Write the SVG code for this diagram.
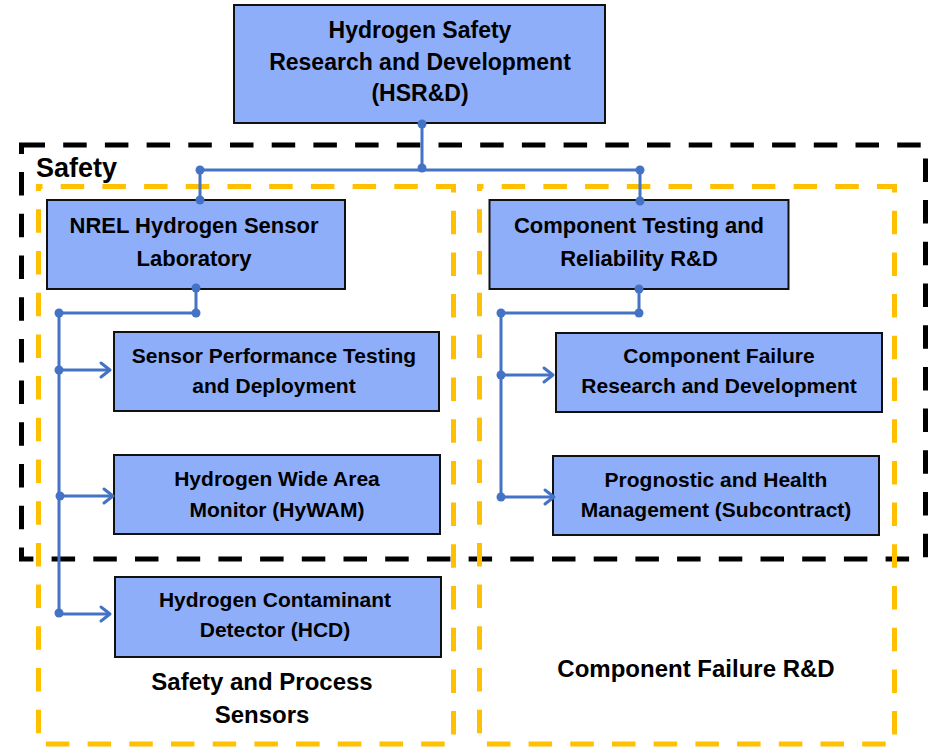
<svg xmlns="http://www.w3.org/2000/svg" width="928" height="747" viewBox="0 0 928 747">
  <style>
    .node rect { fill: #8FAEFA; stroke: #111; stroke-width: 2; }
    .t { font-family: "Liberation Sans", Arial, sans-serif; font-weight: bold; fill: #000; text-anchor: middle; }
    .t23 { font-size: 23px; }
    .t22 { font-size: 22px; }
    .t21 { font-size: 21px; }
    .lbl { font-family: "Liberation Sans", Arial, sans-serif; font-weight: bold; fill: #000; font-size: 24px; }
    .frame-black { fill: none; stroke: #000; stroke-width: 5; stroke-dasharray: 23.5 18.2; }
    .frame-yellow { fill: none; stroke: #FFC000; stroke-width: 5; stroke-dasharray: 23.5 18.2; }
    .wire { fill: none; stroke: #4472C4; stroke-width: 3; }
    .dot { fill: #4472C4; }
  </style>
  <defs>
    <marker id="arrow" markerUnits="userSpaceOnUse" markerWidth="16" markerHeight="20" refX="12" refY="10" orient="auto">
      <path d="M3,3 L12,10 L3,17" fill="none" stroke="#4472C4" stroke-width="3" stroke-linecap="round" stroke-linejoin="round"/>
    </marker>
  </defs>

  <!-- group frames -->
  <g id="frames">
    <rect class="frame-black" x="21.5" y="145" width="904" height="414"/>
    <rect class="frame-yellow" x="38.5" y="186.5" width="415" height="557.5" stroke-dashoffset="19.5"/>
    <rect class="frame-yellow" x="479.5" y="186.5" width="415" height="557.5" stroke-dashoffset="19.5"/>
  </g>

  <!-- frame labels -->
  <g id="labels">
    <text class="lbl" x="36" y="177" font-size="27" style="font-size:27px">Safety</text>
    <text class="lbl" x="262" y="690" text-anchor="middle">Safety and Process</text>
    <text class="lbl" x="262" y="723" text-anchor="middle">Sensors</text>
    <text class="lbl" x="696" y="677" text-anchor="middle">Component Failure R&amp;D</text>
  </g>

  <!-- nodes -->
  <g id="hsrd" class="node">
    <rect x="234" y="5" width="371" height="118"/>
    <text class="t t23" x="420" y="38">Hydrogen Safety</text>
    <text class="t t23" x="420" y="70">Research and Development</text>
    <text class="t t23" x="420" y="101">(HSR&amp;D)</text>
  </g>
  <g id="nrel" class="node">
    <rect x="47" y="200" width="298" height="89"/>
    <text class="t t22" x="194" y="233">NREL Hydrogen Sensor</text>
    <text class="t t22" x="194" y="266">Laboratory</text>
  </g>
  <g id="ctr" class="node">
    <rect x="489.5" y="200" width="299" height="89"/>
    <text class="t t22" x="639" y="233">Component Testing and</text>
    <text class="t t22" x="639" y="266">Reliability R&amp;D</text>
  </g>
  <g id="sensor-perf" class="node">
    <rect x="114" y="332" width="325" height="79"/>
    <text class="t t21" x="274" y="363">Sensor Performance Testing</text>
    <text class="t t21" x="274" y="393">and Deployment</text>
  </g>
  <g id="hywam" class="node">
    <rect x="114" y="455" width="326" height="79"/>
    <text class="t t21" x="277" y="486">Hydrogen Wide Area</text>
    <text class="t t21" x="277" y="517">Monitor (HyWAM)</text>
  </g>
  <g id="hcd" class="node">
    <rect x="115" y="577" width="326" height="80"/>
    <text class="t t21" x="275" y="607">Hydrogen Contaminant</text>
    <text class="t t21" x="275" y="637">Detector (HCD)</text>
  </g>
  <g id="comp-failure" class="node">
    <rect x="556" y="333" width="326" height="79"/>
    <text class="t t21" x="719" y="363">Component Failure</text>
    <text class="t t21" x="719" y="393">Research and Development</text>
  </g>
  <g id="phm" class="node">
    <rect x="553" y="456" width="326" height="79"/>
    <text class="t t21" x="716" y="487">Prognostic and Health</text>
    <text class="t t21" x="716" y="517">Management (Subcontract)</text>
  </g>

  <!-- connectors -->
  <g id="connectors">
    <path class="wire" d="M422,124 V170 M200,170 H640 M200,170 V200 M640,170 V200"/>
    <path class="wire" d="M196,288 V313 H59 M59,313 V614"/>
    <path class="wire" d="M59,370 H110" marker-end="url(#arrow)"/>
    <path class="wire" d="M60,496 H113" marker-end="url(#arrow)"/>
    <path class="wire" d="M59,614 H110" marker-end="url(#arrow)"/>
    <path class="wire" d="M639,289 V313 H501 M501,313 V497"/>
    <path class="wire" d="M501,375 H553" marker-end="url(#arrow)"/>
    <path class="wire" d="M501,497 H554" marker-end="url(#arrow)"/>
    <g class="dot">
      <circle cx="422" cy="124" r="4.5"/>
      <circle cx="422" cy="168" r="4.5"/>
      <circle cx="200" cy="170" r="4.5"/>
      <circle cx="640" cy="170" r="4.5"/>
      <circle cx="200" cy="200" r="4.5"/>
      <circle cx="640" cy="201" r="4.5"/>
      <circle cx="196" cy="288" r="4.5"/>
      <circle cx="196" cy="313" r="4.5"/>
      <circle cx="59" cy="313" r="4.5"/>
      <circle cx="59" cy="370" r="4.5"/>
      <circle cx="60" cy="496" r="4.5"/>
      <circle cx="59" cy="613" r="4.5"/>
      <circle cx="639" cy="289" r="4.5"/>
      <circle cx="639" cy="313" r="4.5"/>
      <circle cx="501" cy="313" r="4.5"/>
      <circle cx="501" cy="375" r="4.5"/>
      <circle cx="501" cy="497" r="4.5"/>
    </g>
  </g>
</svg>
